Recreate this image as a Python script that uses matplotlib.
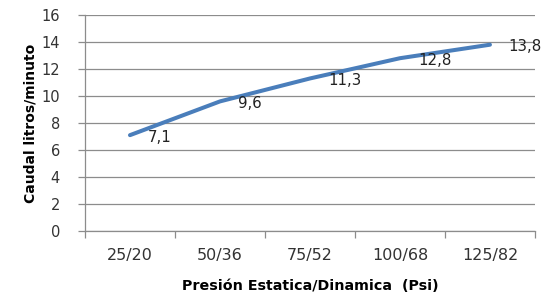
import matplotlib
matplotlib.use('Agg')
import matplotlib.pyplot as plt
import numpy as np

# datos
categorias = ["25/20", "50/36", "75/52", "100/68", "125/82"]
caudal = [7.1, 9.6, 11.3, 12.8, 13.8]
etiquetas = ["7,1", "9,6", "11,3", "12,8", "13,8"]
yticks = [0, 2, 4, 6, 8, 10, 12, 14, 16]

plt.rcParams['font.family'] = ['DejaVu Sans']

fig = plt.figure(figsize=(5.43, 2.96), dpi=100)
ax = fig.add_axes([0.1565, 0.2196, 0.8287, 0.7297])

x = np.arange(len(categorias))
ax.plot(x, caudal, color='#4a7ebb', linewidth=2.9, solid_capstyle='round',
        solid_joinstyle='round', zorder=3)

# etiquetas de datos a la derecha de cada punto
for xi, yi, t in zip(x, caudal, etiquetas):
    ax.annotate(t, (xi, yi), xytext=(13, -1.5), textcoords='offset points',
                ha='left', va='center', fontsize=10.8, color='#222222',
                zorder=4, annotation_clip=False)

ax.set_xlim(-0.5, len(categorias) - 0.5)
ax.set_ylim(0, 16)
ax.set_yticks(yticks)
ax.set_yticklabels([str(v) for v in yticks])
ax.yaxis.grid(True, color='#8c8c8c', linewidth=0.9)
ax.set_axisbelow(True)

# ticks del eje x en los limites de categoria
ax.set_xticks(np.arange(-0.5, len(categorias), 1.0))
ax.set_xticklabels([])
ax.set_xticks(x, minor=True)
ax.set_xticklabels(categorias, minor=True)
ax.tick_params(axis='x', which='minor', length=0, pad=12, labelsize=11.5, labelcolor='#333333')
ax.tick_params(axis='x', which='major', length=5, color='#8c8c8c', width=0.9)
ax.tick_params(axis='y', length=5, color='#8c8c8c', width=0.9, labelsize=10.5,
               labelcolor='#333333', pad=13)

for s in ['top', 'right']:
    ax.spines[s].set_visible(False)
for s in ['left', 'bottom']:
    ax.spines[s].set_color('#8c8c8c')
    ax.spines[s].set_linewidth(0.9)

ax.set_xlabel("Presión Estatica/Dinamica  (Psi)", fontsize=10.3, fontweight='bold', labelpad=12)
ax.set_ylabel("Caudal litros/minuto", fontsize=10, fontweight='bold', labelpad=3)

fig.savefig("out.png", dpi=100)
